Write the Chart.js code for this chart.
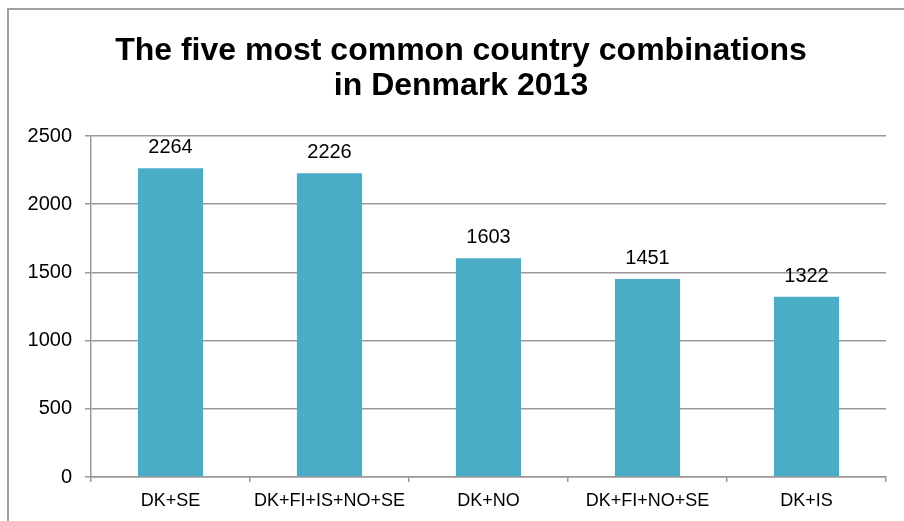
<!DOCTYPE html>
<html>
<head>
<meta charset="utf-8">
<script src="https://cdn.jsdelivr.net/npm/chart.js@4.4.1/dist/chart.umd.min.js"></script>
<style>
    html, body { margin: 0; padding: 0; background: #fff; overflow: hidden; }
    #wrap { position: relative; width: 904px; height: 521px; }
    #frame {
        position: absolute; left: 7px; top: 8px;
        width: 1000px; height: 1000px;
        border: 2px solid #a0a0a0;
        pointer-events: none;
    }
    #chart { position: absolute; left: 0; top: 0; }
</style>
</head>
<body>
<div id="wrap">
    <canvas id="chart" width="904" height="521"></canvas>
    <div id="frame"></div>
</div>
<script>
const categories = ['DK+SE', 'DK+FI+IS+NO+SE', 'DK+NO', 'DK+FI+NO+SE', 'DK+IS'];
const counts = [2264, 2226, 1603, 1451, 1322];
const yTicks = [0, 500, 1000, 1500, 2000, 2500];
const titleLines = ['The five most common country combinations', 'in Denmark 2013'];

const FONT = "'Liberation Sans', Arial, sans-serif";
const GRID = '#999999';

// title is centred on the chart frame, not on the canvas, so draw it here
const frameTitle = {
    id: 'frameTitle',
    afterDraw(chart) {
        const ctx = chart.ctx;
        ctx.save();
        ctx.font = 'bold 32px ' + FONT;
        ctx.fillStyle = '#000';
        ctx.textAlign = 'center';
        ctx.textBaseline = 'alphabetic';
        titleLines.forEach(function(line, i) {
            ctx.fillText(line, 461, 60 + i * 35);
        });
        ctx.restore();
    }
};

// value labels above each bar
const barLabels = {
    id: 'barLabels',
    afterDatasetsDraw(chart) {
        const ctx = chart.ctx;
        const meta = chart.getDatasetMeta(0);
        ctx.save();
        ctx.font = '20px ' + FONT;
        ctx.fillStyle = '#000';
        ctx.textAlign = 'center';
        ctx.textBaseline = 'alphabetic';
        meta.data.forEach(function(bar, i) {
            ctx.fillText(String(counts[i]), bar.x, bar.y - 15);
        });
        ctx.restore();
    }
};

document.addEventListener('DOMContentLoaded', function() {
    const ctx = document.getElementById('chart');
    new Chart(ctx, {
        type: 'bar',
        data: {
            labels: categories,
            datasets: [{
                data: counts,
                backgroundColor: '#4BACC6',
                borderWidth: 0,
                categoryPercentage: 1.0,
                barPercentage: 0.41
            }]
        },
        options: {
            responsive: false,
            animation: false,
            layout: { padding: { left: 20, right: 18, top: 136, bottom: 0 } },
            plugins: {
                legend: { display: false },
                tooltip: { enabled: false },
                title: { display: false }
            },
            scales: {
                x: {
                    grid: {
                        offset: true,
                        drawOnChartArea: false,
                        drawTicks: true,
                        tickLength: 5,
                        color: GRID,
                        lineWidth: 1.5
                    },
                    border: { color: GRID, width: 1.5 },
                    ticks: {
                        color: '#000',
                        font: { family: FONT, size: 18 },
                        padding: 8,
                        maxRotation: 0,
                        autoSkip: false
                    },
                    afterFit(scale) { scale.height = 44; }
                },
                y: {
                    min: 0,
                    max: 2500,
                    afterBuildTicks(scale) {
                        scale.ticks = yTicks.map(v => ({ value: v }));
                    },
                    grid: {
                        color: GRID,
                        lineWidth: 1.5,
                        drawTicks: true,
                        tickLength: 6
                    },
                    border: { color: GRID, width: 1.5 },
                    ticks: {
                        color: '#000',
                        font: { family: FONT, size: 20 },
                        padding: 13,
                        callback: v => String(v)
                    },
                    afterFit(scale) { scale.width = 71; }
                }
            }
        },
        plugins: [barLabels, frameTitle]
    });
});
</script>
</body>
</html>
